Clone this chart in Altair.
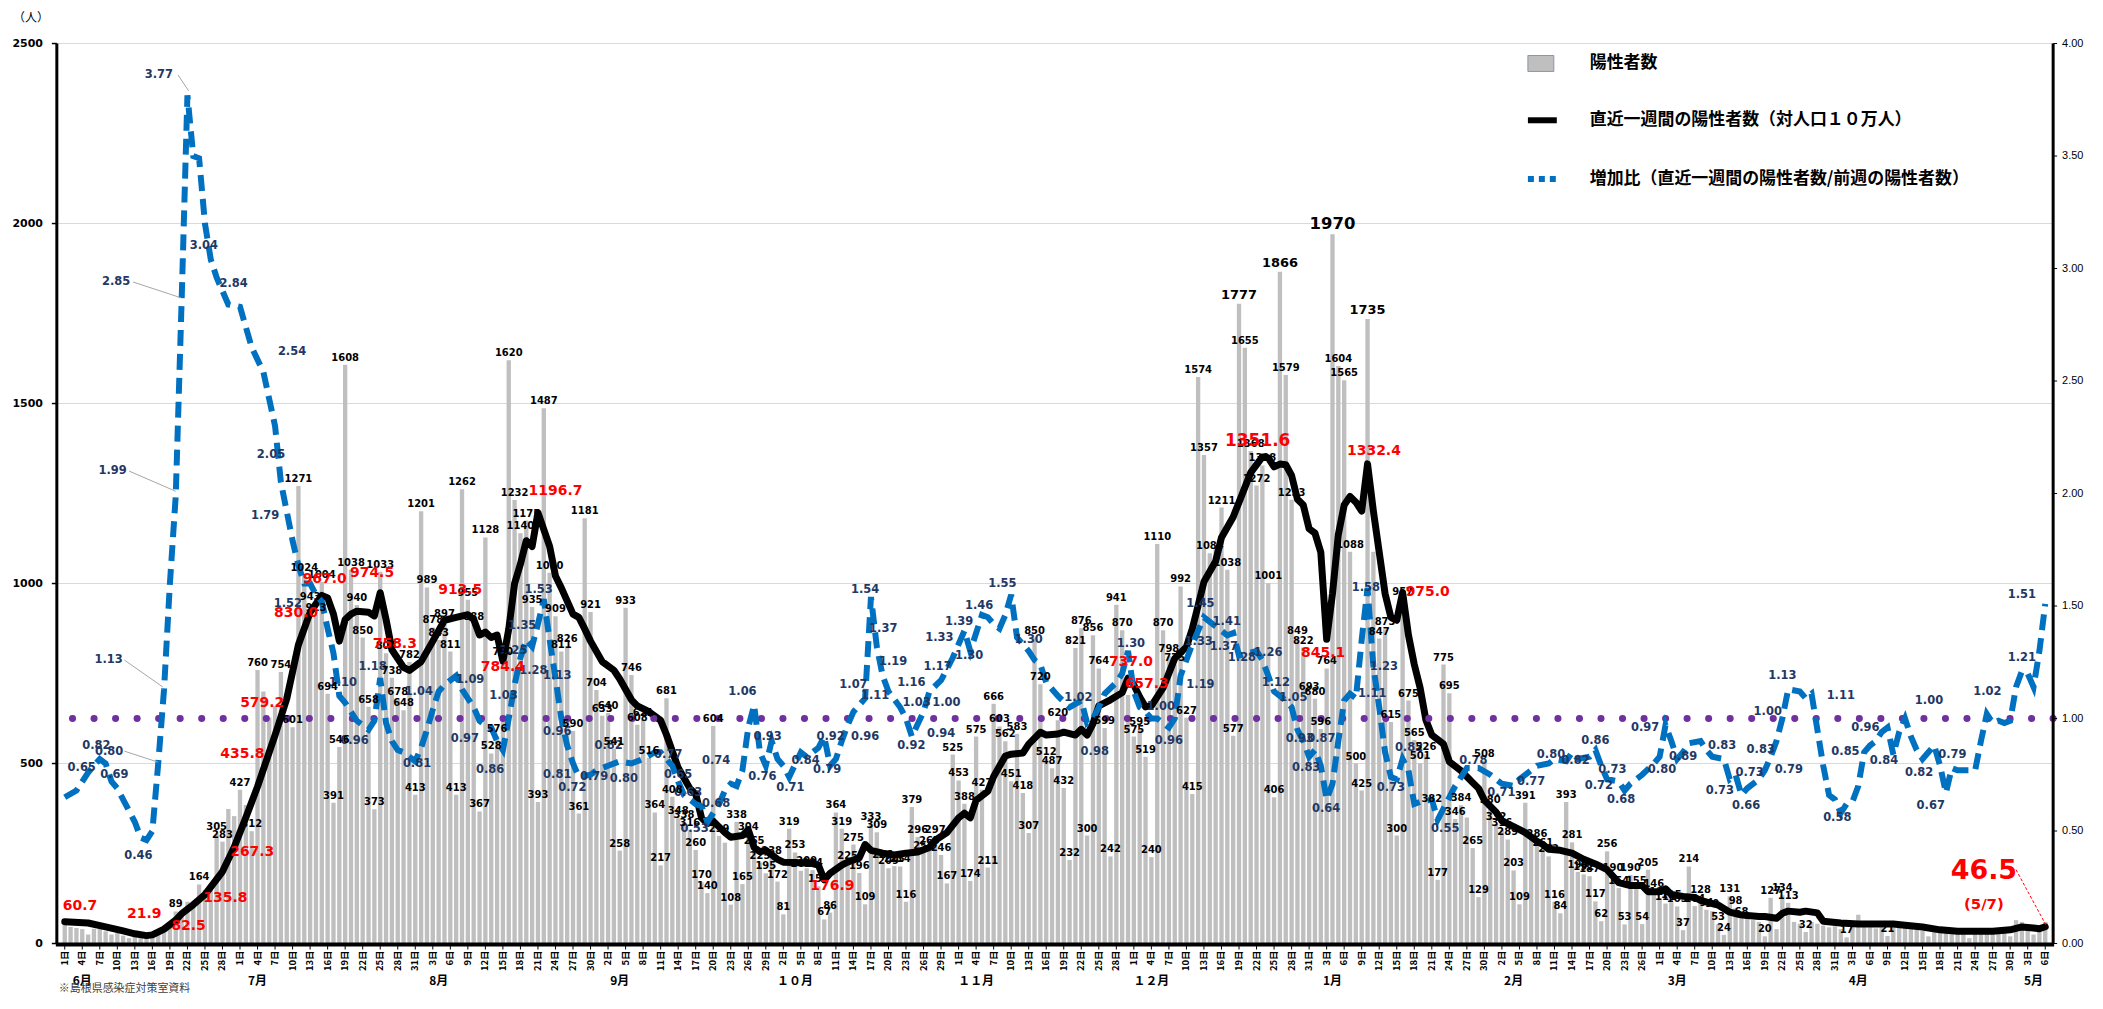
import altair as alt
import pandas as pd

# ---------------- data ----------------
START = "2022-06-01"

cases = [
    54, 46, 43, 40, 25, 41, 41, 34, 25, 30,
    22, 15, 18, 15, 18, 25, 26, 38, 54, 89,
    82, 116, 112, 164, 149, 160, 305, 283, 374, 354,
    427, 385, 312, 760, 700, 628, 660, 754, 628, 601,
    1271, 1024, 943, 913, 1004, 694, 391, 546, 1608, 1038,
    940, 850, 658, 373, 1033, 806, 738, 678, 648, 782,
    413, 1201, 989, 878, 843, 897, 811, 413, 1262, 955,
    888, 367, 1128, 528, 576, 790, 1620, 1232, 1140, 1175,
    935, 393, 1487, 1030, 909, 811, 826, 590, 361, 1181,
    921, 704, 633, 640, 541, 258, 933, 746, 608, 621,
    516, 364, 217, 681, 408, 348, 338, 316, 260, 170,
    140, 604, 299, 280, 108, 338, 165, 304, 265, 225,
    195, 238, 172, 81, 319, 253, 202, 209, 204, 159,
    67, 86, 364, 319, 225, 275, 196, 109, 333, 309,
    226, 209, 215, 214, 116, 379, 296, 252, 265, 297,
    246, 167, 525, 453, 388, 174, 575, 427, 211, 666,
    603, 562, 451, 583, 418, 307, 850, 720, 512, 487,
    620, 432, 232, 821, 876, 300, 856, 764, 599, 242,
    941, 870, 690, 575, 595, 519, 240, 1110, 870, 798,
    775, 992, 627, 415, 1574, 1357, 1084, 1100, 1211, 1038,
    577, 1777, 1655, 1368, 1272, 1328, 1001, 406, 1866, 1579,
    1233, 849, 822, 693, 680, 596, 764, 1970, 1604, 1565,
    1088, 500, 425, 1735, 1088, 847, 873, 615, 300, 957,
    675, 565, 501, 526, 382, 177, 775, 695, 346, 384,
    350, 265, 129, 508, 380, 332, 316, 289, 203, 109,
    391, 300, 286, 261, 242, 116, 84, 393, 281, 199,
    192, 187, 117, 62, 256, 190, 154, 53, 190, 155,
    54, 205, 146, 125, 111, 115, 103, 37, 214, 104,
    128, 94, 90, 53, 24, 131, 98, 68, 70, 65,
    60, 20, 127, 40, 134, 113, 60, 55, 32, 60,
    55, 50, 45, 48, 40, 17, 60, 80, 50, 45,
    42, 45, 21, 55, 50, 45, 40, 38, 35, 20,
    45, 38, 35, 30, 30, 28, 15, 40, 35, 32,
    35, 33, 30, 20, 65, 60, 40, 25, 45, 60,
]

unlabeled_after_40 = [113, 182, 197, 224, 240, 251, 288, 289, 290, 293, 296, 297]
early_labeled = [19, 23, 26, 27, 30, 32, 33, 37, 39]
late_labeled = [291, 292, 294, 295, 298, 305, 312]
big_label_days = [201, 208, 223]
huge_label_days = [217]

week_days = [0, 4, 7, 10, 12, 14, 15, 17, 19, 20, 22, 24, 27, 29, 31, 33, 36, 38, 40, 42, 44, 45, 46, 47,
             48, 49, 50, 52, 53, 54, 55, 56, 58, 59, 61, 63, 65, 67, 69, 70, 71, 72, 73, 74, 75, 76, 77,
             78, 79, 80, 81, 83, 84, 85, 87, 88, 89, 90, 92, 94, 95, 97, 98, 100, 102, 103, 105, 107,
             108, 109, 110, 111, 113, 114, 116, 117, 118, 119, 120, 122, 123, 125, 128, 129, 130, 131,
             133, 134, 136, 137, 138, 140, 142, 144, 146, 148, 149, 151, 153, 154, 155, 156, 158, 159,
             161, 162, 164, 165, 167, 168, 170, 171, 173, 174, 175, 176, 177, 179, 181, 182, 183, 184,
             185, 186, 187, 188, 190, 192, 193, 194, 195, 197, 198, 200, 201, 203, 205, 206, 207, 208,
             209, 210, 211, 212, 213, 214, 215, 216, 217, 218, 219, 220, 221, 222, 223, 224, 225, 226,
             227, 228, 229, 230, 231, 232, 233, 234, 236, 237, 239, 241, 242, 243, 245, 246, 248, 250,
             252, 253, 254, 256, 258, 260, 262, 264, 266, 268, 270, 271, 273, 274, 275, 277, 279, 280,
             282, 283, 285, 287, 290, 291, 293, 294, 295, 297, 298, 300, 301, 304, 307, 313, 315, 318,
             321, 324, 327, 330, 333, 335, 337, 338, 339]
week_vals = [60.7, 57, 46, 35, 27, 21.9, 24, 40, 65, 82.5, 108, 135.8, 200, 267.3, 350, 435.8, 579.2, 680,
             830, 920, 967, 960, 915, 840, 900, 915, 923, 920, 910, 974.5, 900, 816, 767, 758.3, 783,
             840, 898, 906, 913.5, 900, 857, 865, 850, 857, 784.4, 873, 1000, 1054, 1119, 1103, 1196.7,
             1103, 1021, 988, 915, 906, 874, 840, 783, 759, 735, 677, 660, 644, 620, 580, 488, 431, 415,
             349, 333, 340, 308, 295, 300, 316, 267, 255, 259, 234, 226, 225, 222, 218, 176.9, 195, 218,
             226, 238, 275, 259, 251, 246, 251, 254, 267, 287, 308, 349, 362, 349, 398, 423, 464, 521,
             526, 529, 554, 587, 579, 582, 587, 579, 595, 579, 611, 660, 677, 697, 737, 718, 685, 657.3,
             660, 685, 710, 792, 824, 874, 939, 1005, 1062, 1128, 1185, 1226, 1308, 1351.6, 1349, 1324,
             1332, 1330, 1300, 1234, 1218, 1152, 1140, 1087, 845.1, 972, 1136, 1218, 1242, 1226, 1201,
             1332.4, 1201, 1087, 972, 906, 898, 975, 857, 775, 710, 620, 579, 554, 505, 480, 447, 431,
             398, 365, 341, 325, 308, 284, 275, 262, 259, 251, 234, 221, 205, 169, 161, 161, 144, 144,
             152, 136, 131, 128, 120, 111, 107, 87, 79, 75, 75, 70, 84, 90, 87, 90, 85, 62, 57, 54, 54,
             51, 46, 38, 34, 34, 34, 38, 46, 43, 41, 46.5]

ratio_days = [0, 2, 4, 6, 7, 8, 9, 10, 12, 13, 14, 15, 16, 17, 18, 19, 20, 21, 22, 23, 24, 25, 26, 27, 28,
              30, 32, 34, 36, 37, 39, 40, 41, 42, 43, 44, 45, 46, 47, 48, 49, 50, 51, 52, 53, 54, 55, 56,
              57, 58, 59, 60, 61, 62, 63, 64, 65, 66, 67, 68, 69, 70, 71, 72, 73, 74, 75, 76, 77, 78, 79,
              80, 81, 82, 83, 84, 85, 86, 87, 88, 90, 91, 93, 95, 97, 99, 101, 102, 104, 105, 106, 108,
              109, 110, 112, 113, 114, 115, 116, 117, 118, 119, 120, 121, 122, 123, 124, 126, 127, 129,
              130, 131, 132, 133, 134, 135, 137, 138, 139, 140, 141, 143, 144, 145, 147, 148, 150, 151,
              152, 153, 154, 155, 156, 157, 158, 159, 160, 161, 162, 163, 165, 166, 167, 168, 170, 172,
              174, 175, 176, 177, 178, 180, 181, 182, 183, 184, 185, 186, 187, 189, 190, 191, 192, 193,
              195, 197, 199, 200, 201, 204, 205, 207, 209, 210, 211, 212, 213, 214, 215, 216, 217, 218,
              219, 220, 221, 222, 223, 224, 225, 226, 227, 228, 229, 230, 231, 232, 234, 235, 236, 237,
              238, 240, 242, 244, 246, 248, 249, 251, 252, 254, 255, 257, 258, 259, 261, 262, 263, 264,
              266, 267, 268, 269, 270, 272, 273, 274, 275, 276, 277, 278, 280, 281, 282, 284, 285, 286,
              287, 288, 290, 291, 292, 293, 294, 295, 297, 298, 299, 300, 301, 302, 303, 304, 305, 306,
              307, 308, 309, 310, 311, 312, 313, 314, 315, 316, 317, 318, 319, 320, 321, 322, 323, 324,
              325, 326, 327, 328, 329, 330, 331, 332, 333, 334, 335, 336, 337, 338, 339]
ratio_vals = [0.65, 0.68, 0.76, 0.82, 0.80, 0.72, 0.69, 0.64, 0.54, 0.47, 0.46, 0.50, 0.80, 1.13, 1.60,
              1.99, 2.85, 3.77, 3.50, 3.49, 3.20, 3.04, 2.96, 2.90, 2.84, 2.83, 2.65, 2.54, 2.30, 2.05,
              1.79, 1.68, 1.60, 1.60, 1.55, 1.52, 1.40, 1.29, 1.10, 1.07, 1.03, 0.99, 0.97, 0.95, 0.99,
              1.18, 0.98, 0.90, 0.86, 0.85, 0.83, 0.81, 0.87, 0.95, 1.04, 1.12, 1.15, 1.17, 1.19, 1.13,
              1.09, 1.05, 0.99, 0.97, 0.96, 0.90, 0.86, 1.00, 1.15, 1.27, 1.35, 1.32, 1.42, 1.53, 1.35,
              1.18, 1.00, 0.88, 0.80, 0.74, 0.75, 0.77, 0.79, 0.81, 0.80, 0.82, 0.85, 0.85, 0.79, 0.72,
              0.66, 0.62, 0.61, 0.54, 0.62, 0.68, 0.71, 0.70, 0.77, 0.96, 1.06, 0.85, 0.79, 0.90, 0.82,
              0.79, 0.74, 0.85, 0.83, 0.87, 0.92, 0.79, 0.82, 0.90, 0.97, 1.03, 1.09, 1.54, 1.32, 1.19,
              1.12, 1.05, 1.00, 0.92, 1.03, 1.12, 1.17, 1.22, 1.27, 1.33, 1.39, 1.30, 1.38, 1.46, 1.45,
              1.42, 1.40, 1.46, 1.55, 1.36, 1.30, 1.26, 1.24, 1.16, 1.10, 1.05, 1.08, 0.98, 1.00, 1.05,
              1.11, 1.16, 1.20, 1.30, 1.12, 1.05, 1.03, 1.00, 1.00, 0.96, 1.00, 1.19, 1.26, 1.33, 1.45,
              1.41, 1.37, 1.38, 1.28, 1.30, 1.26, 1.12, 1.08, 1.05, 0.95, 0.90, 0.83, 0.86, 0.79, 0.64,
              0.71, 0.90, 1.08, 1.11, 1.09, 1.35, 1.58, 1.23, 1.05, 0.85, 0.74, 0.73, 0.82, 0.77, 0.62,
              0.63, 0.64, 0.55, 0.60, 0.65, 0.70, 0.78, 0.78, 0.75, 0.71, 0.70, 0.73, 0.77, 0.79, 0.80,
              0.82, 0.81, 0.85, 0.82, 0.83, 0.86, 0.79, 0.73, 0.72, 0.68, 0.71, 0.73, 0.75, 0.80, 0.83,
              0.97, 0.90, 0.82, 0.85, 0.89, 0.90, 0.86, 0.83, 0.82, 0.73, 0.75, 0.66, 0.69, 0.73, 0.77,
              0.83, 0.90, 1.00, 1.13, 1.12, 1.09, 1.11, 0.95, 0.79, 0.66, 0.64, 0.58, 0.62, 0.63, 0.70,
              0.85, 0.88, 0.90, 0.94, 0.96, 0.84, 0.94, 1.00, 0.92, 0.86, 0.82, 0.85, 0.88, 0.79, 0.67,
              0.78, 0.77, 0.77, 0.77, 0.77, 0.90, 1.02, 0.98, 0.99, 0.98, 0.99, 1.14, 1.21, 1.20, 1.14,
              1.30, 1.51]

# ratio data labels: where the label text sits (day, ratio level) and its text
rl_days = [2.9, 5.4, 7.6, 8.5, 12.6, 7.5, 8.2, 8.8, 16.1, 23.8, 28.9, 38.9, 35.3, 34.3, 38.2,
           47.6, 49.6, 52.7, 60.3, 60.6, 69.4, 68.5, 72.8, 75.1, 76.8, 78.3, 80.2, 81.1,
           84.3, 84.3, 84.3, 86.9, 90.6, 93.1, 95.7, 103.3, 105, 106.7, 107.8, 111.5, 111.5, 116,
           120.3, 119.4, 124.2, 126.8, 130.5, 131.1, 135, 138.7, 137, 137, 140.1, 141.8, 144.9,
           145.8, 144.9, 149.4, 150.9, 150, 149.7, 153.1, 154.8, 156.5, 160.5, 165,
           173.5, 176.3, 182.5, 187.6, 189, 194.4, 194.1, 194.4, 198.9, 198.4, 201.5, 206, 207.3,
           210.3, 211.4, 212.5, 215.1, 215.9, 223.8, 222.7, 225.8, 227, 230.1, 236.3, 241.1, 245.9,
           251, 254.4, 258.6, 262, 264.9, 262.6, 266.4, 270.5, 273.4, 277, 283.7, 283.3, 287.8,
           288.4, 290.3, 295.1, 291.5, 294, 304, 303.4, 304.8, 308.2, 311.4, 319.1, 317.4, 323.1,
           319.4, 329.1, 335, 335]
rl_texts = ["0.65", "0.82", "0.80", "0.69", "0.46", "1.13", "1.99", "2.85", "3.77", "3.04", "2.84",
            "2.54", "2.05", "1.79", "1.52", "1.10", "0.96", "1.18", "0.81", "1.04", "1.09", "0.97",
            "0.86", "1.03", "1.25", "1.35", "1.28", "1.53", "1.13", "0.96", "0.81", "0.72", "0.79",
            "0.82", "0.80", "0.77", "0.65", "0.63", "0.53", "0.68", "0.74", "1.06", "0.93", "0.76",
            "0.71", "0.84", "0.79", "0.92", "1.07", "1.11", "0.96", "1.54", "1.37", "1.19", "1.16",
            "1.03", "0.92", "1.17", "1.00", "0.94", "1.33", "1.39", "1.30", "1.46", "1.55", "1.30",
            "1.02", "0.98", "1.30", "1.00", "0.96", "1.19", "1.33", "1.45", "1.41", "1.37", "1.28",
            "1.26", "1.12", "1.05", "0.93", "0.83", "0.87", "0.64", "1.11", "1.58", "1.23", "0.73",
            "0.82", "0.55", "0.78", "0.71", "0.77", "0.80", "0.82", "0.86", "0.73", "0.72", "0.68",
            "0.97", "0.80", "0.89", "0.83", "0.73", "0.66", "0.73", "0.83", "0.79", "1.00", "1.13",
            "1.11", "0.58", "0.85", "0.96", "0.84", "1.00", "0.82", "0.79", "0.67", "1.02", "1.21",
            "1.51"]
rl_levels = [0.78, 0.88, 0.85, 0.75, 0.39, 1.26, 2.10, 2.94, 3.86, 3.10, 2.93, 2.63, 2.17, 1.90, 1.51,
             1.16, 0.90, 1.23, 0.80, 1.12, 1.17, 0.91, 0.77, 1.10, 1.30, 1.41, 1.21, 1.57,
             1.19, 0.94, 0.75, 0.69, 0.74, 0.88, 0.73, 0.84, 0.75, 0.67, 0.51, 0.62, 0.81, 1.12,
             0.92, 0.74, 0.69, 0.81, 0.77, 0.92, 1.15, 1.10, 0.92, 1.57, 1.40, 1.25, 1.16,
             1.07, 0.88, 1.23, 1.07, 0.93, 1.36, 1.43, 1.28, 1.50, 1.60, 1.35,
             1.09, 0.85, 1.33, 1.05, 0.90, 1.15, 1.34, 1.51, 1.43, 1.32, 1.27, 1.29, 1.16,
             1.09, 0.91, 0.78, 0.91, 0.60, 1.11, 1.58, 1.23, 0.69, 0.87, 0.51, 0.81, 0.67,
             0.72, 0.84, 0.81, 0.90, 0.77, 0.70, 0.64, 0.96, 0.77, 0.83, 0.88, 0.68, 0.61,
             0.76, 0.86, 0.77, 1.03, 1.19, 1.10, 0.56, 0.85, 0.96, 0.81, 1.08, 0.76, 0.84,
             0.61, 1.12, 1.27, 1.55]

# thin leader lines from some ratio labels to their points: (day, level) -> (day, level)
lead_d1 = [19.4, 11.7, 11.0, 10.2, 10.2]
lead_r1 = [3.86, 2.94, 2.10, 1.26, 0.855]
lead_d2 = [21.2, 19.9, 19.0, 16.8, 16.0]
lead_r2 = [3.79, 2.87, 2.01, 1.14, 0.806]

# red labels of the weekly line: (day, level in persons) where the text sits
red_days = [2.6, 13.6, 21.2, 27.5, 32.1, 30.4, 33.8, 39.6, 44.5, 52.6, 56.5, 67.7, 75.0, 84.0,
            131.4, 182.5, 185.2, 215.4, 224.1, 233.3]
red_texts = ["60.7", "21.9", "82.5", "135.8", "267.3", "435.8", "579.2", "830.0", "967.0", "974.5",
             "758.3", "913.5", "784.4", "1196.7", "176.9", "737.0", "657.3", "845.1", "1332.4", "975.0"]
red_levels = [105, 83, 50, 127, 255, 526, 667, 919, 1013, 1030, 831, 983, 767, 1257,
              161, 781, 720, 808, 1368, 977]
peak_day, peak_text, peak_level = 204.2, "1351.6", 1395
last_day, last_text, last_level = 328.5, "46.5", 202
last_note_text, last_note_level = "(5/7)", 111
last_lead = ([334.0, 339.3], [205, 46])

left_ticks = [0, 500, 1000, 1500, 2000, 2500]
right_ticks = [0.0, 0.5, 1.0, 1.5, 2.0, 2.5, 3.0, 3.5, 4.0]
month_names = ["6月", "7月", "8月", "9月", "１０月", "１１月", "１２月", "1月", "2月", "3月", "4月", "5月"]
legend_texts = ["陽性者数", "直近一週間の陽性者数（対人口１０万人）", "増加比（直近一週間の陽性者数/前週の陽性者数）"]

# ---------------- frames ----------------
N = len(cases)
bars = pd.DataFrame({"day": range(N), "cases": cases})
bars["x0"] = bars["day"] - 0.37
bars["x1"] = bars["day"] + 0.37
bars["base"] = 0

lab_days = set(early_labeled) | (set(range(40, 288)) - set(unlabeled_after_40)) | set(late_labeled)
big = set(big_label_days) | set(huge_label_days)
bl_norm = bars[bars["day"].isin(lab_days - big)]
bl_big = bars[bars["day"].isin(big_label_days)]
bl_huge = bars[bars["day"].isin(huge_label_days)]

week = pd.DataFrame({"day": week_days, "val": week_vals})
ratio = pd.DataFrame({"day": ratio_days, "ratio": ratio_vals})
rlab = pd.DataFrame({"day": rl_days, "level": rl_levels, "text": rl_texts})
leads = pd.DataFrame({"d1": lead_d1, "r1": lead_r1, "d2": lead_d2, "r2": lead_r2})
red = pd.DataFrame({"day": red_days, "level": red_levels, "text": red_texts})
peak = pd.DataFrame({"day": [peak_day], "level": [peak_level], "text": [peak_text]})
last_big = pd.DataFrame({"day": [last_day], "level": [last_level], "text": [last_text]})
last_note = pd.DataFrame({"day": [last_day], "level": [last_note_level], "text": [last_note_text]})
last_ld = pd.DataFrame({"d1": [last_lead[0][0]], "v1": [last_lead[1][0]],
                        "d2": [last_lead[0][1]], "v2": [last_lead[1][1]]})

dates = pd.date_range(START, periods=N)
mstarts = [i for i, d in enumerate(dates) if d.day == 1 or i == 0]
months = pd.DataFrame({"day": [m + 3 for m in mstarts], "text": month_names[:len(mstarts)]})
xt = pd.DataFrame({"day": list(range(0, N, 3))})
xt["label"] = [f"{dates[d].day}日" for d in xt["day"]]
lt = pd.DataFrame({"v": left_ticks, "label": [str(v) for v in left_ticks]})
rt = pd.DataFrame({"v": right_ticks, "label": [f"{v:.2f}" for v in right_ticks]})

one = pd.DataFrame({"k": [0]})

# ---------------- scales / shared encodings ----------------
W, H = 2003, 903
XS = alt.Scale(domain=[-0.5, N - 0.5], nice=False, zero=False)
YL = alt.Scale(domain=[0, 2500], nice=False, zero=True)
YR = alt.Scale(domain=[0, 4], nice=False, zero=True)
JP = "Noto Sans CJK JP"
NUM = "DejaVu Sans"
XN = alt.X("day:Q", scale=XS, axis=None)

# ---------------- group 1: grid, bars, weekly line (left scale) ----------------
grid = alt.Chart(lt).mark_rule(color="#d9d9d9", strokeWidth=1).encode(
    y=alt.Y("v:Q", scale=YL, axis=None))
bar_layer = alt.Chart(bars).mark_bar(color="#bfbfbf", orient="vertical").encode(
    x=alt.X("x0:Q", scale=XS, axis=None), x2="x1:Q",
    y=alt.Y("cases:Q", scale=YL, axis=None), y2="base:Q")
week_line = alt.Chart(week).mark_line(color="black", strokeWidth=7, strokeJoin="round",
                                      strokeCap="round").encode(
    x=XN, y=alt.Y("val:Q", scale=YL, axis=None))
g1 = alt.layer(grid, bar_layer, week_line)

# ---------------- group 2: ratio (right scale) ----------------
one_rule = alt.Chart(one).mark_rule(color="#7030a0", strokeWidth=7, strokeCap="round",
                                   strokeDash=[0.1, 21.5]).encode(
    y=alt.Y(datum=1.0, scale=YR, axis=None))
ratio_line = alt.Chart(ratio).mark_line(color="#0070c0", strokeWidth=6, strokeDash=[16, 8]).encode(
    x=XN, y=alt.Y("ratio:Q", scale=YR, axis=None))
lead_layer = alt.Chart(leads).mark_rule(color="#a6a6a6", strokeWidth=1).encode(
    x=alt.X("d1:Q", scale=XS, axis=None), x2="d2:Q",
    y=alt.Y("r1:Q", scale=YR, axis=None), y2="r2:Q")
ratio_text = alt.Chart(rlab).mark_text(font=NUM, fontSize=11.5, fontWeight="bold", color="#1f3864",
                                       baseline="middle").encode(
    x=XN, y=alt.Y("level:Q", scale=YR, axis=None), text="text:N")
r_dom = alt.Chart(one).mark_rule(color="black", strokeWidth=3).encode(
    x=alt.value(W), y=alt.value(0), y2=alt.value(H))
r_ticks = alt.Chart(rt).mark_rule(color="black", strokeWidth=1).encode(
    x=alt.value(W), x2=alt.value(W + 4), y=alt.Y("v:Q", scale=YR, axis=None))
r_labels = alt.Chart(rt).mark_text(font="Liberation Sans", fontSize=11, color="black", align="left",
                                   baseline="middle").encode(
    x=alt.value(W + 9), y=alt.Y("v:Q", scale=YR, axis=None), text="label:N")
g2 = alt.layer(one_rule, ratio_line, lead_layer, ratio_text, r_dom, r_ticks, r_labels)


# ---------------- group 3: labels, axes, annotations (left scale) ----------------
def bar_text(df, size):
    return alt.Chart(df).mark_text(font=NUM, fontSize=size, fontWeight="bold", color="black",
                                   baseline="bottom", dy=-2).encode(
        x=XN, y=alt.Y("cases:Q", scale=YL, axis=None), text="cases:Q")


def red_text(df, size):
    return alt.Chart(df).mark_text(font=NUM, fontSize=size, fontWeight="bold", color="#ff0000",
                                   baseline="middle").encode(
        x=XN, y=alt.Y("level:Q", scale=YL, axis=None), text="text:N")


last_lead_layer = alt.Chart(last_ld).mark_rule(color="#ff0000", strokeWidth=1,
                                               strokeDash=[3, 2]).encode(
    x=alt.X("d1:Q", scale=XS, axis=None), x2="d2:Q",
    y=alt.Y("v1:Q", scale=YL, axis=None), y2="v2:Q")

l_dom = alt.Chart(one).mark_rule(color="black", strokeWidth=3).encode(
    x=alt.value(0), y=alt.value(0), y2=alt.value(H))
l_ticks = alt.Chart(lt).mark_rule(color="black", strokeWidth=1.5).encode(
    x=alt.value(-5), x2=alt.value(0), y=alt.Y("v:Q", scale=YL, axis=None))
l_labels = alt.Chart(lt).mark_text(font=NUM, fontSize=11, fontWeight="bold", color="black",
                                   align="right", baseline="middle").encode(
    x=alt.value(-14), y=alt.Y("v:Q", scale=YL, axis=None), text="label:N")
b_dom = alt.Chart(one).mark_rule(color="black", strokeWidth=4).encode(
    x=alt.value(-1), x2=alt.value(W + 1), y=alt.value(H + 1))
x_ticks = alt.Chart(xt).mark_rule(color="black", strokeWidth=1).encode(
    x=XN, y=alt.value(H), y2=alt.value(H + 6))
x_labels = alt.Chart(xt).mark_text(font=JP, fontSize=9.5, fontWeight="bold", color="black",
                                   angle=270, align="right", baseline="middle").encode(
    x=XN, y=alt.value(H + 7), text="label:N")

month_layer = alt.Chart(months).mark_text(font=JP, fontSize=12, fontWeight="bold", color="black",
                                          baseline="middle").encode(
    x=XN, y=alt.value(H + 38), text="text:N")
note = alt.Chart(one).mark_text(font=JP, fontSize=11, color="#404040", align="left",
                                baseline="bottom").encode(
    x=alt.value(2), y=alt.value(H + 51), text=alt.value("※島根県感染症対策室資料"))
unit = alt.Chart(one).mark_text(font=JP, fontSize=12, color="black", baseline="middle").encode(
    x=alt.value(-26), y=alt.value(-26), text=alt.value("（人）"))

leg_box = alt.Chart(one).mark_rect(fill="#bfbfbf", stroke="#8497b0", strokeWidth=1).encode(
    x=alt.value(1476), x2=alt.value(1502), y=alt.value(12), y2=alt.value(28))
leg_black = alt.Chart(one).mark_rule(color="black", strokeWidth=6).encode(
    x=alt.value(1476), x2=alt.value(1505), y=alt.value(77))
leg_blue = alt.Chart(one).mark_rule(color="#0070c0", strokeWidth=6, strokeDash=[6, 5]).encode(
    x=alt.value(1476), x2=alt.value(1507), y=alt.value(136))
leg_rows = [20, 77, 136]
leg_texts = [alt.Chart(one).mark_text(font=JP, fontSize=17, fontWeight="bold", color="black",
                                      align="left", baseline="middle").encode(
    x=alt.value(1538), y=alt.value(r), text=alt.value(t)) for t, r in zip(legend_texts, leg_rows)]

g3 = alt.layer(
    bar_text(bl_norm, 10), bar_text(bl_big, 13), bar_text(bl_huge, 16.5),
    red_text(red, 14), red_text(peak, 17), red_text(last_big, 27), red_text(last_note, 15),
    last_lead_layer,
    l_dom, l_ticks, l_labels, b_dom, x_ticks, x_labels,
    month_layer, note, unit, leg_box, leg_black, leg_blue, *leg_texts,
)

chart = alt.layer(g1, g2, g3).resolve_scale(y="independent").properties(
    width=W, height=H,
    autosize=alt.AutoSizeParams(type="none"),
    padding={"left": 49, "top": 34, "right": 42, "bottom": 50},
    background="white",
).configure_view(strokeWidth=0)

chart.save("out.html", embed_options={"renderer": "svg", "actions": False})
